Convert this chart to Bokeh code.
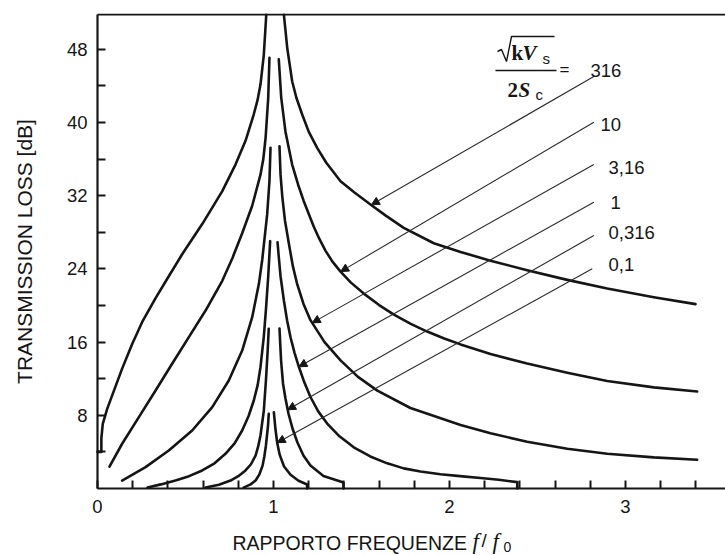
import math
from bokeh.plotting import figure
from bokeh.models import FixedTicker, Label, Arrow, NormalHead, Range1d, ColumnDataSource
from bokeh.embed import file_html
from bokeh.resources import INLINE

# ---------------- data ----------------
# parameter sqrt(kVs)/(2Sc) of each curve
params = ["316", "10", "3,16", "1", "0,316", "0,1"]

# curve 316 (outermost)
fA_left = [0.000, 0.022, 0.022, 0.030, 0.055, 0.084, 0.140, 0.197, 0.254, 0.330, 0.405, 0.481, 0.595, 0.709, 0.784, 0.841, 0.888, 0.910, 0.926, 0.945, 0.959]
tA_left = [4.00, 4.00, 5.50, 7.07, 8.70, 10.20, 13.10, 15.80, 18.20, 20.80, 23.20, 25.60, 28.90, 32.50, 35.40, 38.00, 40.90, 42.50, 44.15, 47.40, 51.80]
fA_right = [1.059, 1.078, 1.106, 1.130, 1.163, 1.200, 1.248, 1.300, 1.381, 1.460, 1.551, 1.640, 1.740, 1.911, 2.063, 2.233, 2.441, 2.669, 2.896, 3.161, 3.398]
tA_right = [51.80, 48.16, 44.51, 42.70, 40.87, 39.00, 37.23, 35.60, 33.58, 32.35, 31.04, 29.80, 28.49, 26.80, 25.85, 24.90, 23.85, 22.80, 21.85, 20.90, 20.15]

# curve 10
fB_left = [0.068, 0.140, 0.235, 0.330, 0.424, 0.519, 0.614, 0.709, 0.767, 0.822, 0.879, 0.926, 0.942, 0.955, 0.970, 0.977]
tB_left = [2.40, 4.89, 7.80, 10.71, 13.63, 16.54, 19.45, 22.70, 25.20, 27.90, 30.90, 34.30, 36.00, 38.30, 42.70, 47.07]
fB_right = [1.030, 1.044, 1.068, 1.106, 1.140, 1.172, 1.229, 1.260, 1.295, 1.335, 1.381, 1.440, 1.513, 1.600, 1.684, 1.780, 1.873, 1.970, 2.063, 2.233, 2.441, 2.669, 2.896, 3.161, 3.407]
tB_right = [46.90, 42.70, 39.00, 35.40, 33.20, 31.40, 28.60, 27.30, 26.00, 24.80, 23.70, 22.50, 21.30, 20.05, 19.00, 18.00, 17.15, 16.40, 15.75, 14.70, 13.65, 12.65, 11.75, 11.05, 10.60]

# curve 3,16
fC_left = [0.140, 0.273, 0.405, 0.538, 0.652, 0.746, 0.822, 0.879, 0.917, 0.936, 0.964, 0.977, 0.983]
tC_left = [0.87, 2.33, 4.15, 6.34, 8.89, 11.80, 15.08, 18.72, 22.37, 25.00, 29.95, 33.58, 37.23]
fC_right = [1.034, 1.040, 1.050, 1.065, 1.087, 1.110, 1.135, 1.170, 1.210, 1.290, 1.381, 1.480, 1.590, 1.778, 2.063, 2.233, 2.441, 2.669, 2.896, 3.161, 3.407]
tC_right = [37.40, 34.30, 31.90, 29.30, 26.80, 24.30, 22.30, 20.20, 18.40, 16.00, 14.00, 12.20, 10.70, 8.80, 6.95, 6.05, 5.10, 4.35, 3.80, 3.40, 3.14]

# curve 1
fD_left = [0.284, 0.360, 0.443, 0.520, 0.595, 0.665, 0.727, 0.780, 0.822, 0.858, 0.888, 0.910, 0.926, 0.945, 0.958, 0.970, 0.981]
tD_left = [0.11, 0.45, 0.87, 1.35, 1.97, 2.75, 3.79, 4.95, 6.34, 7.90, 9.62, 11.30, 13.26, 16.60, 19.80, 23.20, 27.03]
fD_right = [1.023, 1.030, 1.040, 1.059, 1.077, 1.097, 1.120, 1.144, 1.175, 1.210, 1.255, 1.305, 1.375, 1.456, 1.550, 1.646, 1.740, 1.835, 1.949, 2.060, 2.176, 2.280, 2.385, 2.385]
tD_right = [26.90, 25.30, 23.20, 20.55, 18.40, 16.50, 14.80, 13.30, 11.60, 10.00, 8.40, 7.10, 5.70, 4.50, 3.50, 2.75, 2.20, 1.85, 1.55, 1.35, 1.15, 0.95, 0.70, 0.00]

# curve 0,316
fE_left = [0.614, 0.690, 0.756, 0.800, 0.841, 0.872, 0.898, 0.913, 0.926, 0.945, 0.957, 0.967, 0.973]
tE_left = [0.10, 0.40, 0.87, 1.35, 1.97, 2.65, 3.60, 4.60, 5.80, 8.50, 11.80, 15.10, 17.45]
fE_right = [1.034, 1.043, 1.054, 1.068, 1.085, 1.108, 1.136, 1.170, 1.210, 1.284, 1.398, 1.398]
tE_right = [17.49, 13.99, 11.48, 9.84, 8.20, 6.56, 5.03, 3.61, 2.51, 1.37, 0.66, 0.00]

# curve 0,1
fF_left = [0.830, 0.870, 0.898, 0.920, 0.938, 0.948, 0.957, 0.969, 0.973]
tF_left = [0.10, 0.45, 0.87, 1.55, 2.50, 3.50, 4.70, 6.90, 8.16]
fF_right = [1.002, 1.011, 1.021, 1.035, 1.060, 1.097, 1.142, 1.191, 1.191]
tF_right = [8.34, 6.50, 5.00, 3.70, 2.40, 1.50, 0.85, 0.44, 0.00]

# leader lines: from the label to the arrow on its curve (data units)
lead_f0 = [2.820, 2.820, 2.820, 2.820, 2.820, 2.811]
lead_t0 = [45.03, 40.03, 35.41, 31.29, 27.65, 24.01]
lead_f1 = [1.556, 1.381, 1.220, 1.144, 1.080, 1.021]
lead_t1 = [31.00, 23.70, 18.10, 13.30, 8.60, 5.00]

x_major = [0, 1, 2, 3]
x_minor = [0.2, 0.4, 0.6, 0.8, 1.2, 1.4, 1.6, 1.8, 2.2, 2.4, 2.6, 2.8, 3.2, 3.4]
y_major = [8, 16, 24, 32, 40, 48]
y_minor = [4, 12, 20, 28, 36, 44]

# ---------------- layout helpers (page pixels -> data units) ----------------
X0, XS = 97.0, 176.0
Y0, YS = 488.0, 9.15
def dx(px):
    return (px - X0) / XS
def dy(py):
    return (Y0 - py) / YS

W, H = 725, 555
INK = "#151515"
SANS = "Liberation Sans"
SERIF = "Liberation Serif"

p = figure(width=W, height=H,
           x_range=Range1d(dx(0), dx(W)), y_range=Range1d(dy(H), dy(13)),
           output_backend="svg", toolbar_location=None,
           min_border_left=0, min_border_right=0, min_border_top=13, min_border_bottom=0)
p.outline_line_color = None
p.xgrid.visible = False
p.ygrid.visible = False
p.background_fill_color = "white"

p.xaxis.fixed_location = 0
p.yaxis.fixed_location = 0
p.xaxis.bounds = (0, dx(W))
p.yaxis.bounds = (0, dy(14))
p.xaxis.ticker = FixedTicker(ticks=x_major, minor_ticks=x_minor)
p.yaxis.ticker = FixedTicker(ticks=y_major, minor_ticks=y_minor)
for ax in (p.xaxis[0], p.yaxis[0]):
    ax.axis_line_width = 2.2
    ax.axis_line_color = INK
    ax.major_tick_in = 8
    ax.major_tick_out = 0
    ax.minor_tick_in = 8
    ax.minor_tick_out = 0
    ax.major_tick_line_width = 2
    ax.minor_tick_line_width = 2
    ax.major_tick_line_color = INK
    ax.minor_tick_line_color = INK
    ax.major_label_text_font = SANS
    ax.major_label_text_font_size = "18.5px"
    ax.major_label_text_color = INK
    ax.axis_label = None
p.xaxis.major_label_standoff = 11
p.yaxis.major_label_standoff = 10

# top border line (from the y axis to the right edge)
p.line([0, dx(W)], [dy(14), dy(14)], line_color=INK, line_width=2.2)

# curves
branches = [(fA_left, tA_left), (fA_right, tA_right), (fB_left, tB_left), (fB_right, tB_right),
            (fC_left, tC_left), (fC_right, tC_right), (fD_left, tD_left), (fD_right, tD_right),
            (fE_left, tE_left), (fE_right, tE_right), (fF_left, tF_left), (fF_right, tF_right)]
for fx, tl in branches:
    p.line(fx, tl, line_color=INK, line_width=2.6, line_join="round", line_cap="round")

# leader lines with arrow heads
lead_src = ColumnDataSource(dict(x0=lead_f0, y0=lead_t0, x1=lead_f1, y1=lead_t1))
p.add_layout(Arrow(source=lead_src, x_start="x0", y_start="y0", x_end="x1", y_end="y1",
                   line_color="#2a2a2a", line_width=1.1,
                   end=NormalHead(size=8, fill_color=INK, line_color=INK, line_width=1)))

def lab(txt, px, py, font, size, style="normal", angle=0.0, align="left"):
    p.add_layout(Label(x=dx(px), y=dy(py), text=txt, text_font=font, text_font_size=size,
                       text_font_style=style, text_color=INK, text_align=align,
                       text_baseline="middle", angle=angle))

# parameter labels
label_px = [590, 600, 608, 610, 608, 608]
label_py = [70, 123.5, 166.5, 201.5, 232, 263.5]
for txt, px, py in zip(params, label_px, label_py):
    lab(txt, px, py, SANS, "18.5px")

# fraction  sqrt(k V_s) / (2 S_c) =
lab("k", 511, 52, SERIF, "21px", "bold")
lab("V", 522, 52, SERIF, "21px", "bold italic")
lab("s", 542, 58, SANS, "15px")
lab("2", 507, 89, SERIF, "21px", "bold")
lab("S", 518, 89, SERIF, "21px", "bold italic")
lab("c", 535, 94, SANS, "15px")
lab("=", 559, 69, SANS, "17px")
rad_px = [497, 501, 506, 511, 554]
rad_py = [51, 49, 61, 36, 36]
p.line([dx(v) for v in rad_px], [dy(v) for v in rad_py], line_color=INK, line_width=1.4)
p.line([dx(495), dx(556)], [dy(70), dy(70)], line_color=INK, line_width=1.4)

# axis titles
lab("TRANSMISSION LOSS [dB]", 24, 251, SANS, "21px", angle=math.pi / 2, align="center")
lab("RAPPORTO FREQUENZE", 232, 542.5, SANS, "19.5px")
lab("f", 472, 541, SERIF, "23px", "italic")
lab("/", 481, 540, SANS, "19px")
lab("f", 492, 541, SERIF, "23px", "italic")
lab("0", 503, 546, SANS, "14px")

open("out.html", "w").write(file_html(p, INLINE))
